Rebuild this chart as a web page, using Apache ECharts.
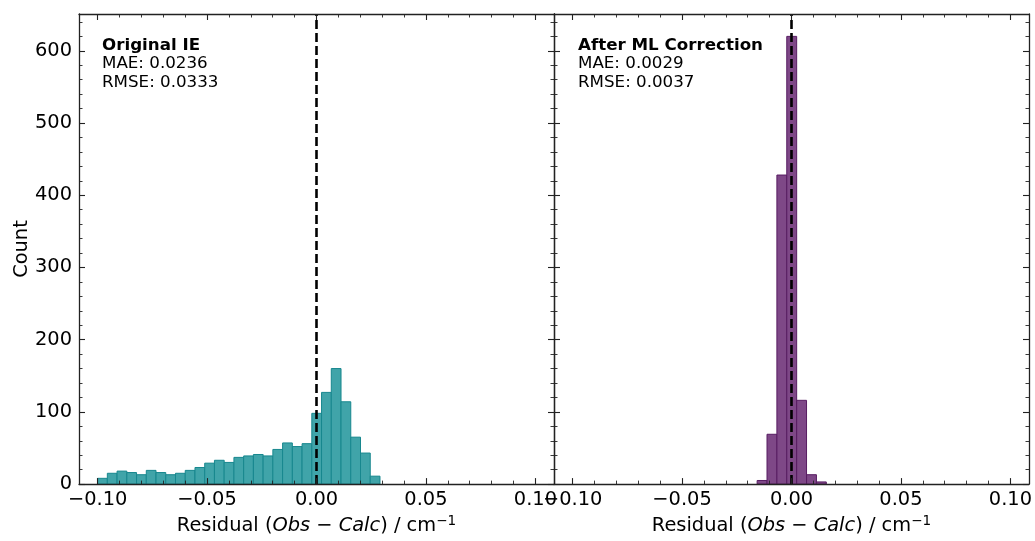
<!DOCTYPE html>
<html>
<head>
<meta charset="utf-8">
<script src="https://cdn.jsdelivr.net/npm/echarts@6/dist/echarts.min.js"></script>
<style>
  html, body { margin: 0; padding: 0; background: #fff; }
  #chart { width: 1035px; height: 541px; }
</style>
</head>
<body>
<div id="chart"></div>
<script>
// Residual histograms: original IE values vs. after ML correction
const leftBinRange = [-0.1000, 0.0290];
const leftCounts = [8, 15, 18, 16, 13, 19, 16, 13, 15, 19, 23, 29, 33, 30, 37, 39, 41, 39, 48, 57,
                    52, 56, 98, 127, 160, 114, 65, 43, 11];
const rightBinRange = [-0.0157, 0.0159];
const rightCounts = [5, 69, 428, 620, 116, 13, 3];

const panelTitles = ['Original IE', 'After ML Correction'];
const panelStats = [
  ['MAE: 0.0236', 'RMSE: 0.0333'],
  ['MAE: 0.0029', 'RMSE: 0.0037']
];

const xMajorTicks = [-0.10, -0.05, 0.00, 0.05, 0.10];
const xMinorTicks = [-0.10, -0.09, -0.08, -0.07, -0.06, -0.05, -0.04, -0.03, -0.02, -0.01, 0.00,
                     0.01, 0.02, 0.03, 0.04, 0.05, 0.06, 0.07, 0.08, 0.09, 0.10];
const yMajorTicks = [0, 100, 200, 300, 400, 500, 600];
const yMinorTicks = [0, 20, 40, 60, 80, 100, 120, 140, 160, 180, 200, 220, 240, 260, 280, 300, 320,
                     340, 360, 380, 400, 420, 440, 460, 480, 500, 520, 540, 560, 580, 600, 620, 640];
const xLimit = 0.1085;
const yMax = 651;
const zeroResidual = 0;

const FONT = 'DejaVu Sans';
const INK = '#222';
const barColors = [
  { fill: '#40a4a9', stroke: '#17878e' },
  { fill: '#7e4887', stroke: '#571c62' }
];

function binRows(range, counts) {
  const w = (range[1] - range[0]) / counts.length;
  return counts.map((c, i) => [range[0] + i * w, range[0] + (i + 1) * w, c]);
}

function tickLabel(v) {
  const s = Math.abs(v).toFixed(2);
  return v < -1e-9 ? '\u2212' + s : s;
}

const grids = [
  { left: 79, top: 14, width: 475, height: 473 },
  { left: 554, top: 14, width: 475, height: 473 }
];

const spine = { show: true, onZero: false, lineStyle: { color: INK, width: 1.3 } };
const noSpine = { show: false, onZero: false };
const majorTick = vals => ({ show: true, inside: true, length: 6, customValues: vals, lineStyle: { color: INK, width: 1.1 } });
const minorTick = vals => ({ show: true, inside: true, length: 3.5, customValues: vals, lineStyle: { color: INK, width: 0.9 } });

const xAxes = [];
const yAxes = [];
grids.forEach((g, gi) => {
  const base = { gridIndex: gi, type: 'value', min: -xLimit, max: xLimit, splitLine: { show: false }, z: 5 };
  // bottom: spine, major ticks, labels, title
  xAxes.push(Object.assign({}, base, {
    position: 'bottom',
    axisLine: spine,
    axisTick: majorTick(xMajorTicks),
    axisLabel: { show: true, customValues: xMajorTicks, formatter: tickLabel, margin: 6,
                 color: '#000', fontFamily: FONT, fontSize: 19.4 },
    name: '{n|Residual (}{i|Obs}{n| \u2212 }{i|Calc}{n|) / cm}{s|\u22121}',
    nameLocation: 'middle', nameGap: 27,
    nameTextStyle: {
      color: '#000', fontFamily: FONT, fontSize: 19.4,
      rich: {
        n: { fontFamily: FONT, fontSize: 19.4, color: '#000', lineHeight: 24 },
        i: { fontFamily: FONT, fontSize: 19.4, fontStyle: 'italic', color: '#000', lineHeight: 24 },
        s: { fontFamily: FONT, fontSize: 13.6, color: '#000', verticalAlign: 'top', lineHeight: 24, padding: [0, 0, 8, 0] }
      }
    }
  }));
  xAxes.push(Object.assign({}, base, {
    position: 'bottom', axisLine: noSpine, axisTick: minorTick(xMinorTicks), axisLabel: { show: false }
  }));
  xAxes.push(Object.assign({}, base, {
    position: 'top', axisLine: spine, axisTick: majorTick(xMajorTicks), axisLabel: { show: false }
  }));
  xAxes.push(Object.assign({}, base, {
    position: 'top', axisLine: noSpine, axisTick: minorTick(xMinorTicks), axisLabel: { show: false }
  }));

  const ybase = { gridIndex: gi, type: 'value', min: 0, max: yMax, splitLine: { show: false }, z: 5 };
  yAxes.push(Object.assign({}, ybase, {
    position: 'left',
    axisLine: spine,
    axisTick: majorTick(yMajorTicks),
    axisLabel: { show: gi === 0, customValues: yMajorTicks, margin: 7,
                 color: '#000', fontFamily: FONT, fontSize: 19.4 },
    name: gi === 0 ? 'Count' : '',
    nameLocation: 'middle', nameGap: 48,
    nameTextStyle: { color: '#000', fontFamily: FONT, fontSize: 19.4 }
  }));
  yAxes.push(Object.assign({}, ybase, {
    position: 'left', axisLine: noSpine, axisTick: minorTick(yMinorTicks), axisLabel: { show: false }
  }));
  yAxes.push(Object.assign({}, ybase, {
    position: 'right', axisLine: spine, axisTick: majorTick(yMajorTicks), axisLabel: { show: false }
  }));
  yAxes.push(Object.assign({}, ybase, {
    position: 'right', axisLine: noSpine, axisTick: minorTick(yMinorTicks), axisLabel: { show: false }
  }));
});

function histSeries(gi, rows) {
  const col = barColors[gi];
  return {
    type: 'custom',
    coordinateSystem: 'cartesian2d',
    xAxisIndex: gi * 4,
    yAxisIndex: gi * 4,
    data: rows,
    encode: { x: [0, 1], y: 2 },
    z: 2,
    silent: true,
    renderItem: (params, api) => {
      const tl = api.coord([api.value(0), api.value(2)]);
      const br = api.coord([api.value(1), 0]);
      return {
        type: 'rect',
        shape: { x: tl[0], y: tl[1], width: br[0] - tl[0], height: br[1] - tl[1] },
        style: { fill: col.fill, stroke: col.stroke, lineWidth: 1 }
      };
    }
  };
}

function zeroLine(gi) {
  return {
    type: 'line',
    xAxisIndex: gi * 4,
    yAxisIndex: gi * 4,
    data: [[zeroResidual, 0], [zeroResidual, yMax]],
    symbol: 'none',
    silent: true,
    z: 4,
    lineStyle: { color: '#000', width: 2.6, type: [9, 4] }
  };
}

function statsText(gi, left) {
  return {
    type: 'text',
    left: left,
    top: 37,
    z: 10,
    style: {
      text: '{b|' + panelTitles[gi] + '}\n{n|' + panelStats[gi].join('}\n{n|') + '}',
      rich: {
        b: { fontFamily: FONT, fontSize: 16.7, fontWeight: 'bold', lineHeight: 18.5, fill: '#000' },
        n: { fontFamily: FONT, fontSize: 16.7, lineHeight: 18.5, fill: '#000' }
      }
    }
  };
}

const chart = echarts.init(document.getElementById('chart'), null, { renderer: 'canvas' });
chart.setOption({
  animation: false,
  backgroundColor: '#fff',
  grid: grids,
  xAxis: xAxes,
  yAxis: yAxes,
  series: [
    histSeries(0, binRows(leftBinRange, leftCounts)),
    histSeries(1, binRows(rightBinRange, rightCounts)),
    zeroLine(0),
    zeroLine(1)
  ],
  graphic: [statsText(0, 102), statsText(1, 578)]
});
</script>
</body>
</html>
